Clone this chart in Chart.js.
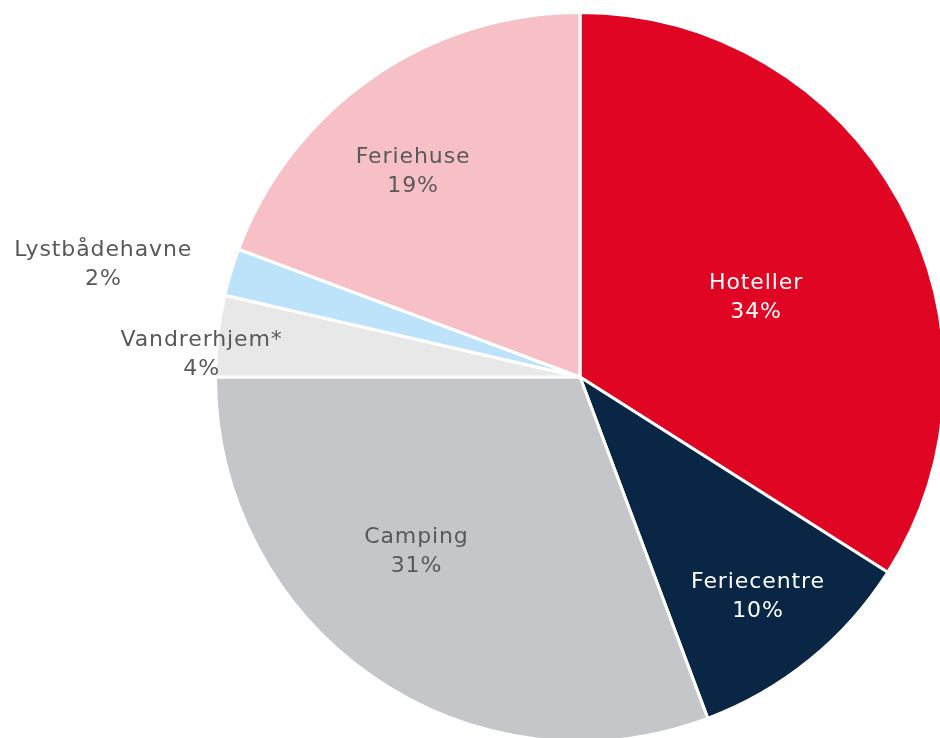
<!DOCTYPE html>
<html>
<head>
<meta charset="utf-8">
<script src="https://cdn.jsdelivr.net/npm/chart.js@4.4.1/dist/chart.umd.min.js"></script>
<style>
  html, body { margin: 0; padding: 0; background: #ffffff; overflow: hidden; width: 940px; height: 738px; }
  #wrap { position: absolute; left: 0; top: 0; width: 960px; height: 760px; }
</style>
</head>
<body>
<div id="wrap"><canvas id="c" width="960" height="760"></canvas></div>
<script>
// ---- data ----
const categories = ["Hoteller", "Feriecentre", "Camping", "Vandrerhjem*", "Lystbådehavne", "Feriehuse"];
const shares = [34.0, 10.3, 30.7, 3.6, 2.1, 19.3];
const sliceColors = ["#E00522", "#0A2645", "#C5C6CA", "#E8E8E9", "#BDE3FB", "#F6C0C6"];
const labelColors = ["#FFFFFF", "#FFFFFF", "#595959", "#595959", "#595959", "#595959"];
// label placement: fraction of radius, angle nudge (degrees)
const labelRadius = [0.53, 0.775, 0.655, 1.04, 1.344, 0.727];
const labelNudge = [4.5, 0, 8.5, -3, -3.4, -4.3];

const FONT = '400 22px "DejaVu Sans", "Open Sans", sans-serif';

const labelPlugin = {
  id: 'sliceLabels',
  afterDatasetsDraw(chart) {
    const ctx = chart.ctx;
    const meta = chart.getDatasetMeta(0);
    const total = shares.reduce((a, b) => a + b, 0);
    ctx.save();
    ctx.font = FONT;
    ctx.textAlign = 'center';
    ctx.textBaseline = 'middle';
    if ('letterSpacing' in ctx) ctx.letterSpacing = '0.9px';
    meta.data.forEach((arc, i) => {
      const p = arc.getProps(['x', 'y', 'startAngle', 'endAngle', 'outerRadius'], true);
      const mid = (p.startAngle + p.endAngle) / 2 + labelNudge[i] * Math.PI / 180;
      const r = p.outerRadius * labelRadius[i];
      const x = p.x + Math.cos(mid) * r;
      const y = p.y + Math.sin(mid) * r;
      const pct = Math.round(shares[i] / total * 100) + '%';
      ctx.fillStyle = labelColors[i];
      ctx.fillText(categories[i], x, y - 14);
      ctx.fillText(pct, x, y + 15);
    });
    ctx.restore();
  }
};

new Chart(document.getElementById('c'), {
  type: 'pie',
  data: {
    labels: categories,
    datasets: [{
      data: shares,
      backgroundColor: sliceColors,
      borderColor: '#FFFFFF',
      borderWidth: 3,
      hoverOffset: 0
    }]
  },
  options: {
    responsive: false,
    animation: false,
    layout: { padding: { left: 214, top: 11, right: 14, bottom: 17 } },
    plugins: {
      legend: { display: false },
      tooltip: { enabled: false }
    }
  },
  plugins: [labelPlugin]
});
</script>
</body>
</html>
